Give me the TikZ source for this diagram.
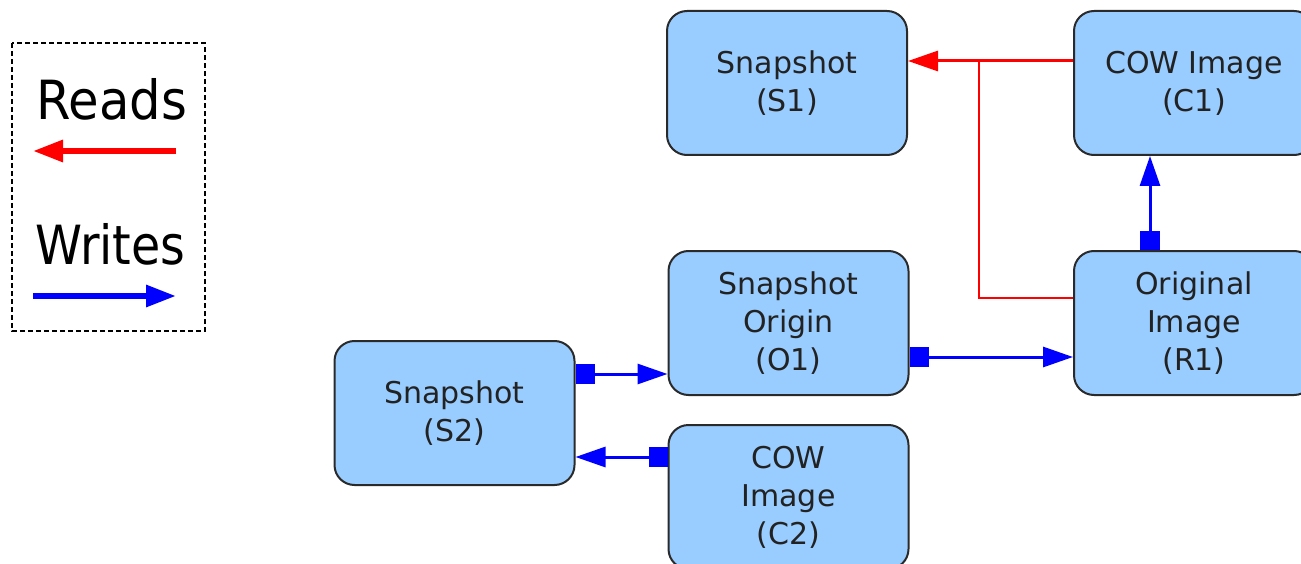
\documentclass[tikz,border=0pt]{standalone}
\usepackage{fontspec}
\setmainfont{DejaVu Sans}
\usetikzlibrary{arrows.meta}
\definecolor{boxfill}{HTML}{99CCFF}
\definecolor{boxline}{HTML}{2A2A2A}
\definecolor{txt}{HTML}{222222}
\definecolor{rd}{HTML}{FF0000}
\definecolor{bl}{HTML}{0000FF}
\tikzset{
  box/.style={draw=boxline, line width=2pt, fill=boxfill, rounded corners=20pt,
    minimum width=240pt, minimum height=144pt, inner sep=0pt, align=center,
    text=txt, font=\fontsize{30}{38}\selectfont},
  wr/.style={draw=bl, line width=3pt, {Square[length=19pt,width=20pt]}-{Triangle[length=30pt,width=20pt]}},
  rdline/.style={draw=rd, line width=3pt},
  legtxt/.style={inner sep=0pt, anchor=base west, font=\fontsize{54}{60}\selectfont},
}
\begin{document}
\begin{tikzpicture}[x=1pt,y=-1pt]
\useasboundingbox (0,0) rectangle (1301,564);
% legend
\draw[black, line width=1.5pt, dash pattern=on 5pt off 3pt] (12,43) rectangle (205,331);
\node[legtxt] (lr) at (36,120) {\scalebox{0.92}[1]{Reads}};
\node[legtxt] (lw) at (35,265) {\scalebox{0.88}[1]{Writes}};
\coordinate (lra) at (176,151);
\coordinate (lrb) at (33,151);
\coordinate (lwa) at (33,296);
\coordinate (lwb) at (176,296);
\draw[rd, line width=6pt, -{Triangle[length=30pt,width=21pt]}] (lra) -- (lrb);
\draw[bl, line width=6pt, -{Triangle[length=30pt,width=21pt]}] (lwa) -- (lwb);
% nodes
\node[box] (S1) at (787,83) {Snapshot\\(S1)};
\node[box] (C1) at (1194,83) {COW Image\\(C1)};
\node[box] (O1) at (788.5,323) {Snapshot\\Origin\\(O1)};
\node[box] (R1) at (1194,323) {Original\\Image\\(R1)};
\node[box] (S2) at (454.5,413) {Snapshot\\(S2)};
\node[box] (C2) at (788.5,497) {COW\\Image\\(C2)};
% reads
\coordinate (rj) at (979,61);
\draw[rd, line width=2.2pt] ([yshift=25pt]R1.west) -| (rj);
\draw[rdline, -{Triangle[length=30pt,width=20pt]}] ([yshift=22pt]C1.west) -- ([yshift=22pt]C1.west -| S1.east);
% writes
\draw[wr] ([xshift=-44pt]R1.north) -- ([xshift=-44pt]C1.south);
\draw[wr] ([yshift=-34pt]O1.east) -- ([yshift=-34pt]O1.east -| R1.west);
\draw[wr] ([yshift=39pt]S2.east) -- ([yshift=39pt]S2.east -| O1.west);
\draw[wr] ([yshift=40pt]C2.west) -- ([yshift=40pt]C2.west -| S2.east);
\end{tikzpicture}
\end{document}
